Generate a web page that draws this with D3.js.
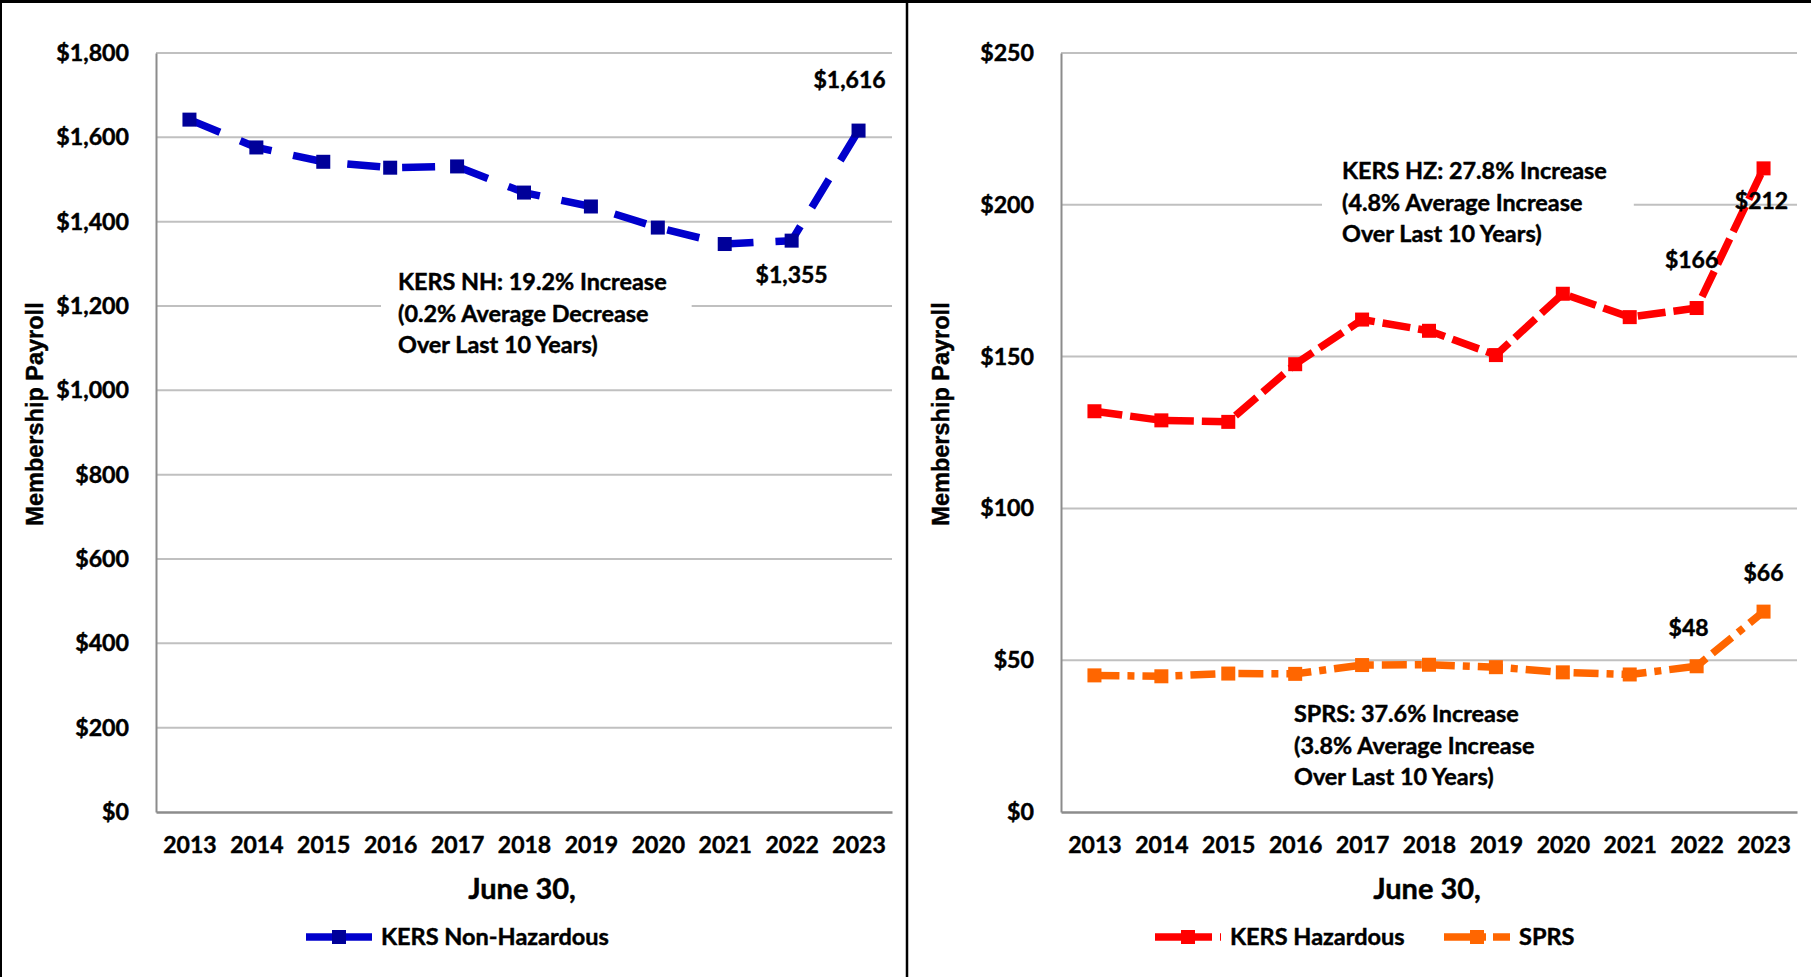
<!DOCTYPE html>
<html><head><meta charset="utf-8">
<script src="https://cdn.jsdelivr.net/npm/d3@7/dist/d3.min.js"></script>
<style>
html,body{margin:0;padding:0;background:#fff;}
svg{display:block;}
text{font-family:Lato,"Noto Sans",sans-serif;font-weight:700;fill:#000;stroke:#000;stroke-width:0.45px;}
</style></head>
<body>
<svg id="c" width="1811" height="977"></svg>
<script>
// ---------- data ----------
const years = ["2013","2014","2015","2016","2017","2018","2019","2020","2021","2022","2023"];
const kersNH = [1642, 1576, 1542, 1528, 1531, 1469, 1436, 1386, 1347, 1355, 1616];
const kersHZ = [132, 129, 128.5, 147.5, 162.2, 158.5, 150.5, 170.7, 163, 166, 212];
const sprs   = [45, 44.7, 45.6, 45.5, 48.4, 48.5, 47.7, 46, 45.3, 48, 66];
const leftTicks  = [0, 200, 400, 600, 800, 1000, 1200, 1400, 1600, 1800];
const rightTicks = [0, 50, 100, 150, 200, 250];
const leftNote  = ["KERS NH: 19.2% Increase", "(0.2% Average Decrease", "Over Last 10 Years)"];
const hzNote    = ["KERS HZ: 27.8% Increase", "(4.8% Average Increase", "Over Last 10 Years)"];
const sprsNote  = ["SPRS: 37.6% Increase", "(3.8% Average Increase", "Over Last 10 Years)"];
const leftLabels  = [{i:9, text:"$1,355"}, {i:10, text:"$1,616"}];
const hzLabels    = [{i:9, text:"$166"}, {i:10, text:"$212"}];
const sprsLabels  = [{i:9, text:"$48"}, {i:10, text:"$66"}];

const svg = d3.select("#c");
const fmt = d3.format("$,");

// frame
svg.append("rect").attr("x",0).attr("y",0).attr("width",1811).attr("height",977).attr("fill","#fff");
svg.append("line").attr("x1",0).attr("x2",1811).attr("y1",1.5).attr("y2",1.5).attr("stroke","#000").attr("stroke-width",3);
svg.append("line").attr("x1",1).attr("x2",1).attr("y1",0).attr("y2",977).attr("stroke","#000").attr("stroke-width",2);
svg.append("line").attr("x1",907).attr("x2",907).attr("y1",0).attr("y2",977).attr("stroke","#000").attr("stroke-width",2.5);

function panel(opt){
  const g = svg.append("g");
  const x = d3.scalePoint().domain(years).range([opt.x0, opt.x1]).padding(0.5);
  const y = d3.scaleLinear().domain([0, opt.max]).range([opt.y1, opt.y0]);

  // gridlines
  g.append("g").selectAll("line").data(opt.ticks.filter(t=>t>0)).join("line")
    .attr("x1",opt.x0).attr("x2",opt.x1).attr("y1",d=>y(d)).attr("y2",d=>y(d))
    .attr("stroke","#c0c0c0").attr("stroke-width",2);

  // y axis
  const ya = g.append("g").attr("transform",`translate(${opt.x0},0)`)
    .call(d3.axisLeft(y).tickValues(opt.ticks).tickFormat(fmt).tickSize(0).tickPadding(27));
  ya.select(".domain").attr("stroke","#8c8c8c").attr("stroke-width",2);
  ya.selectAll("text").style("font-size","23.2px").style("font-family","Lato").style("font-weight","700").attr("fill","#000");

  // x axis
  const xa = g.append("g").attr("transform",`translate(0,${opt.y1})`)
    .call(d3.axisBottom(x).tickSize(0).tickPadding(25));
  xa.select(".domain").attr("stroke","#8c8c8c").attr("stroke-width",2.5);
  xa.selectAll("text").style("font-size","23px").style("font-family","Lato").style("font-weight","700").attr("fill","#000");

  // axis titles
  g.append("text").attr("x",(opt.x0+opt.x1)/2 - 2).attr("y",899).attr("text-anchor","middle")
    .style("font-size","29px").text("June 30,");
  g.append("text").attr("transform",`translate(${opt.ytx},414) rotate(-90)`).attr("text-anchor","middle")
    .attr("dy","0.35em")
    .style("font-family","'Liberation Sans',Arial,sans-serif").style("font-size","23.5px").text("Membership Payroll");

  // notes
  opt.notes.forEach(n=>{
    const ng = g.append("g");
    const bg = ng.append("rect").attr("fill","#fff").attr("stroke","none");
    const t = ng.append("text").attr("x",n.x).attr("y",n.y).style("font-size","23.4px");
    n.lines.forEach((l,k)=>t.append("tspan").attr("x",n.x).attr("dy",k?31.5:0).text(l));
    const bb = t.node().getBBox();
    bg.attr("x",bb.x-n.padL).attr("y",bb.y-4).attr("width",bb.width+n.padL+n.padR).attr("height",bb.height+8);
  });

  // series
  opt.series.forEach(s=>{
    const line = d3.line().x((d,i)=>x(years[i])).y(d=>y(d));
    g.append("path").datum(s.values).attr("d",line).attr("fill","none")
      .attr("stroke",s.color).attr("stroke-width",7.5).attr("stroke-dasharray",s.dash)
      .attr("stroke-linejoin","round");
    g.append("g").selectAll("rect").data(s.values).join("rect")
      .attr("x",(d,i)=>x(years[i])-7).attr("y",d=>y(d)-7).attr("width",14).attr("height",14)
      .attr("fill",s.marker);
    s.labels.forEach(L=>{
      g.append("text").attr("x",x(years[L.i])+L.dx).attr("y",y(s.values[L.i])+L.dy)
        .attr("text-anchor","middle").attr("dy","0.35em").style("font-size","23px").text(L.text);
    });
  });

  // legend
  opt.legend.forEach(l=>{
    const cy = 937;
    g.append("line").attr("x1",l.x).attr("x2",l.x+66).attr("y1",cy).attr("y2",cy)
      .attr("stroke",l.color).attr("stroke-width",7.5).attr("stroke-dasharray",l.dash);
    g.append("rect").attr("x",l.x+33-7).attr("y",cy-7).attr("width",14).attr("height",14).attr("fill",l.marker);
    g.append("text").attr("x",l.x+75).attr("y",cy).attr("dy","0.35em").style("font-size","23.5px").text(l.name);
  });
}

panel({
  x0:156, x1:892, y0:53, y1:812, max:1800, ticks:leftTicks, ytx:35,
  notes:[{x:398, y:290, lines:leftNote, padL:17, padR:25}],
  series:[{values:kersNH, color:"#0000cc", marker:"#000099", dash:"33,22",
    labels:[{i:leftLabels[0].i, text:leftLabels[0].text, dx:0, dy:34},{i:leftLabels[1].i, text:leftLabels[1].text, dx:-9, dy:-51}]}],
  legend:[{x:306, color:"#0000cc", marker:"#000099", dash:null, name:"KERS Non-Hazardous"}]
});

panel({
  x0:1061, x1:1797, y0:53, y1:812, max:250, ticks:rightTicks, ytx:941,
  notes:[{x:1342, y:179, lines:hzNote, padL:20, padR:27},{x:1294, y:722, lines:sprsNote, padL:10, padR:10}],
  series:[
    {values:kersHZ, color:"#ff0000", marker:"#ff0000", dash:"28,8",
      labels:[{i:hzLabels[0].i, text:hzLabels[0].text, dx:-5, dy:-48},{i:hzLabels[1].i, text:hzLabels[1].text, dx:-2, dy:33}]},
    {values:sprs, color:"#ff6600", marker:"#ff6600", dash:"25,8,7,8",
      labels:[{i:sprsLabels[0].i, text:sprsLabels[0].text, dx:-8, dy:-38},{i:sprsLabels[1].i, text:sprsLabels[1].text, dx:0, dy:-39}]}
  ],
  legend:[
    {x:1155, color:"#ff0000", marker:"#ff0000", dash:"57,8,3,100", name:"KERS Hazardous"},
    {x:1444, color:"#ff6600", marker:"#ff6600", dash:"42,7,18,100", name:"SPRS"}
  ]
});
</script>
</body></html>
